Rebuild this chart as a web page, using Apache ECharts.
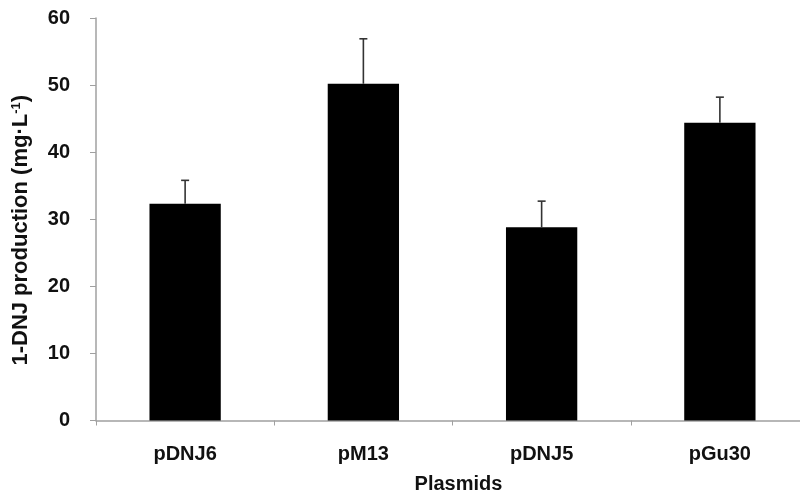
<!DOCTYPE html>
<html>
<head>
<meta charset="utf-8">
<script src="https://cdn.jsdelivr.net/npm/echarts@6/dist/echarts.min.js"></script>
<style>
html,body{margin:0;padding:0;background:#fff;}
#c{width:800px;height:493px;}
</style>
</head>
<body>
<div id="c"></div>
<script>
var categories = ['pDNJ6', 'pM13', 'pDNJ5', 'pGu30'];
var means = [32.3, 50.2, 28.8, 44.4];
var upperErrors = [35.8, 56.9, 32.7, 48.2];
var yTicks = [0, 10, 20, 30, 40, 50, 60];

var FONT = '"Liberation Sans", Arial, sans-serif';
var chart = echarts.init(document.getElementById('c'));

var errData = categories.map(function (c, i) { return [i, means[i], upperErrors[i]]; });

chart.setOption({
  animation: false,
  backgroundColor: '#ffffff',
  grid: { left: 96, right: -9, top: 18, bottom: 72.5, containLabel: false, outerBoundsMode: 'none' },
  xAxis: {
    type: 'category',
    data: categories,
    boundaryGap: true,
    axisLine: { lineStyle: { color: '#a0a0a0', width: 1.5 } },
    axisTick: { show: true, alignWithLabel: false, length: 5, lineStyle: { color: '#a0a0a0' } },
    axisLabel: { fontFamily: FONT, fontWeight: 'bold', fontSize: 20, color: '#111', margin: 24 },
    name: 'Plasmids',
    nameLocation: 'middle',
    nameGap: 54,
    nameTextStyle: { fontFamily: FONT, fontWeight: 'bold', fontSize: 20, color: '#111', padding: [0, 0, 0, 12] }
  },
  yAxis: {
    type: 'value',
    min: yTicks[0],
    max: yTicks[yTicks.length - 1],
    interval: 10,
    splitLine: { show: false },
    axisLine: { show: true, lineStyle: { color: '#a0a0a0', width: 1.5 } },
    axisTick: { show: true, inside: false, length: 6, lineStyle: { color: '#a0a0a0' } },
    axisLabel: { fontFamily: FONT, fontWeight: 'bold', fontSize: 20, color: '#111', margin: 26 },
    name: '{n|1-DNJ production (mg·L}{s|-1}{n|)}',
    nameLocation: 'middle',
    nameGap: 64,
    nameRotate: 90,
    nameTextStyle: {
      padding: [0, 22, 0, 0],
      rich: {
        n: { fontFamily: FONT, fontWeight: 'bold', fontSize: 22, color: '#111' },
        s: { fontFamily: FONT, fontWeight: 'bold', fontSize: 13, color: '#111', verticalAlign: 'top', padding: [0, 0, 9, 0] }
      }
    }
  },
  series: [
    {
      type: 'bar',
      data: means,
      barWidth: '40%',
      itemStyle: { color: '#000000' },
      z: 2
    },
    {
      type: 'custom',
      data: errData,
      z: 3,
      renderItem: function (params, api) {
        var x = api.value(0);
        var lo = api.coord([x, api.value(1)]);
        var hi = api.coord([x, api.value(2)]);
        var half = 4;
        var st = { stroke: '#333333', lineWidth: 1.6 };
        return {
          type: 'group',
          children: [
            { type: 'line', shape: { x1: lo[0], y1: lo[1], x2: hi[0], y2: hi[1] }, style: st },
            { type: 'line', shape: { x1: hi[0] - half, y1: hi[1], x2: hi[0] + half, y2: hi[1] }, style: st }
          ]
        };
      }
    }
  ]
});
</script>
</body>
</html>
